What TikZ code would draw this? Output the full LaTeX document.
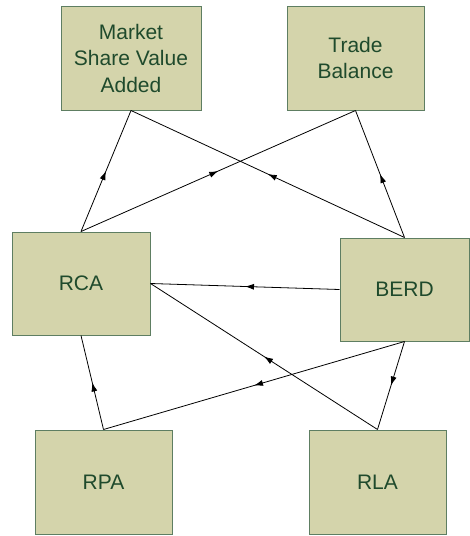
\documentclass[tikz,border=0pt]{standalone}
\usepackage{fontspec}
\setmainfont{Liberation Sans}
\usetikzlibrary{arrows.meta,decorations.markings}
\definecolor{boxfill}{HTML}{D4D4AB}
\definecolor{boxline}{HTML}{5E7E62}
\definecolor{boxtext}{HTML}{1F4A2C}
\tikzset{
>={Latex[width=6pt,length=9pt]},
	factor/.style={
		rectangle,
		sharp corners,
		fill=boxfill,
		draw=boxline, line width=1pt,
		text=boxtext,
		font=\fontsize{21}{26.5}\selectfont,
		inner sep=0pt,
		minimum width=137pt,
		minimum height=104pt,
		align=center},
	link/.style={
		line width=0.8pt,
		decoration={markings, mark=at position 0.5 with {\arrow{>}}},
		postaction={decorate}}
}
\begin{document}
\begin{tikzpicture}[x=1pt,y=-1pt]
\useasboundingbox (0,0) rectangle (470,536);
\node[factor, minimum width=140pt] (msva) at (131,58) {Market\\Share Value\\Added};
\node[factor] (trade) at (355.5,58) {Trade\\Balance};
\node[factor, minimum width=138pt, minimum height=103pt] (rca) at (81,283.5) {RCA};
\node[factor, minimum width=129pt, minimum height=103pt] (berd) at (404.5,289.5) {BERD};
\node[factor] (rpa) at (103.5,482) {RPA};
\node[factor] (rla) at (377.5,482) {RLA};
% links between the indicators
\draw[link] (rca.north) -- (msva.south);
\draw[link] (rca.north) -- (trade.south);
\draw[link] (berd.north) -- (msva.south);
\draw[link] (berd.north) -- (trade.south);
\draw[link] (berd.west) -- (rca.east);
\draw[link] (rla.north) -- (rca.east);
\draw[link] (rpa.north) -- (rca.south);
\draw[link] (berd.south) -- (rpa.north);
\draw[link] (berd.south) -- (rla.north);
\end{tikzpicture}
\end{document}
